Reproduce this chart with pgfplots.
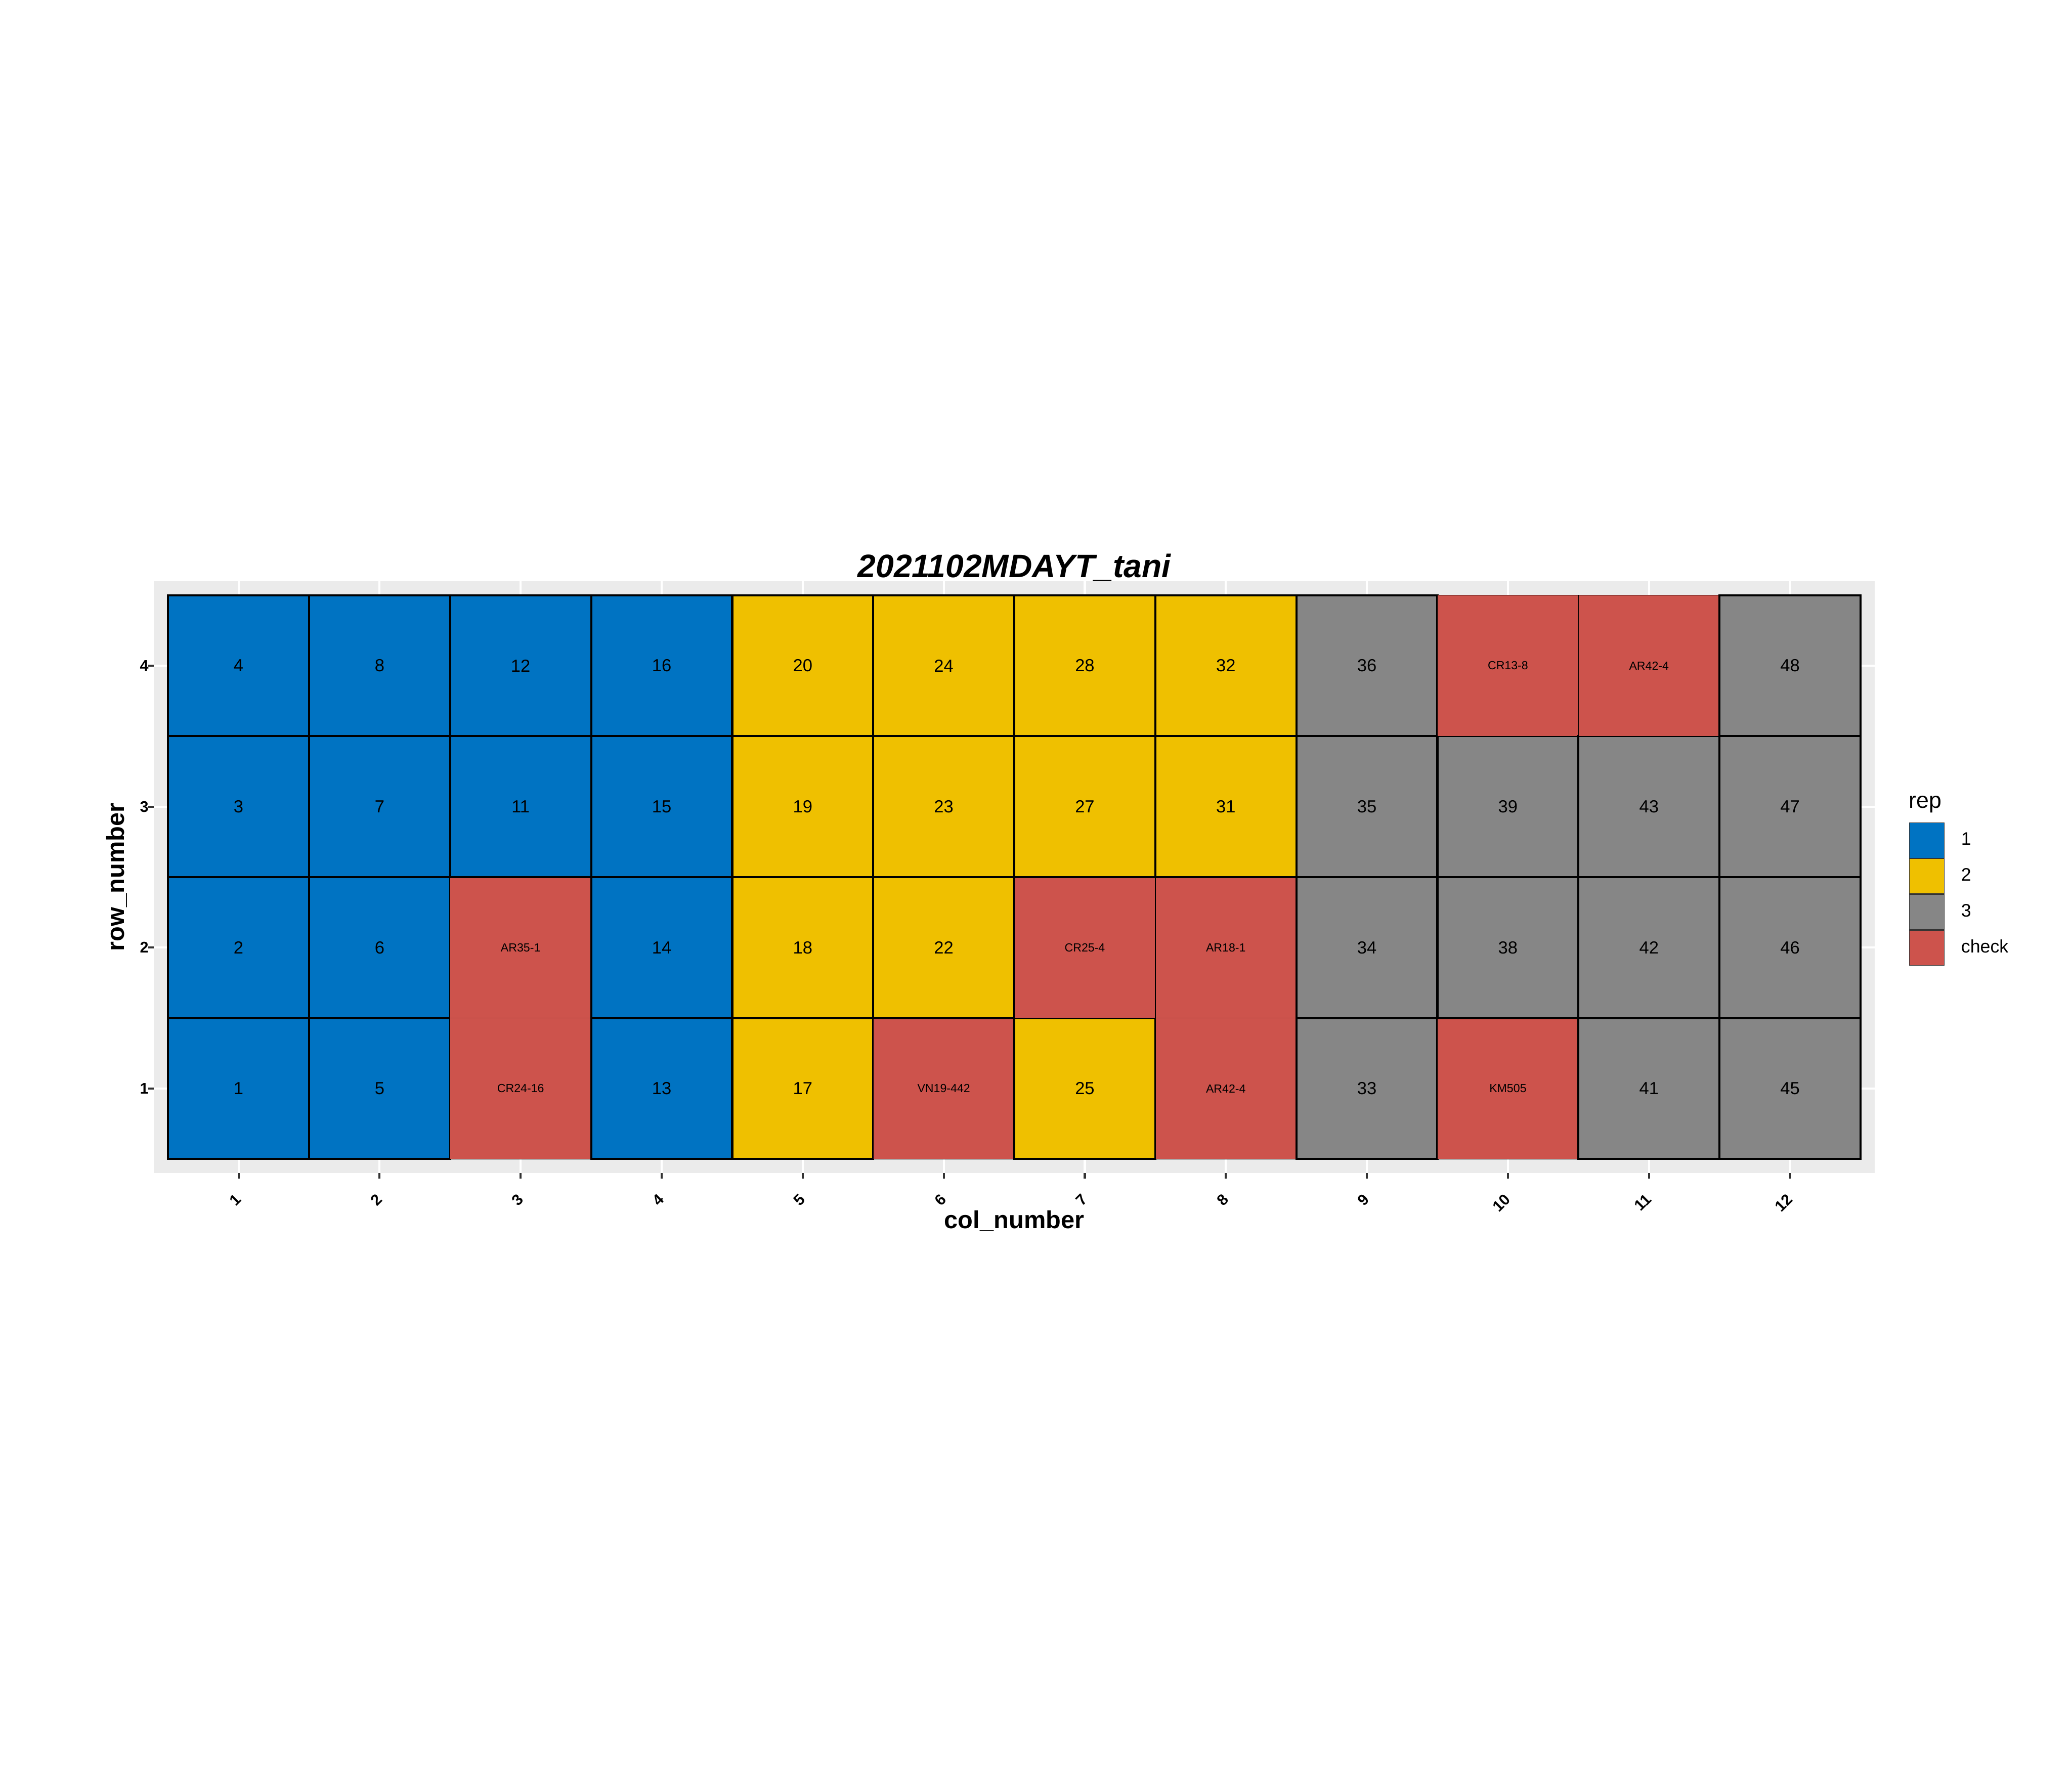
\documentclass[border=0pt]{standalone}
\usepackage{fontspec}
\setmainfont{Liberation Sans}
\usepackage{pgfplots}
\usepackage{pgfplotstable}
\pgfplotsset{compat=1.18}
\definecolor{repA}{HTML}{0073C2}
\definecolor{repB}{HTML}{EFC000}
\definecolor{repC}{HTML}{868686}
\definecolor{repD}{HTML}{CD534C}
\definecolor{panelbg}{HTML}{EBEBEB}
\definecolor{tickc}{HTML}{333333}
\pgfplotstableread{
x y cls lab
1 1 a 1
1 2 a 2
1 3 a 3
1 4 a 4
2 1 a 5
2 2 a 6
2 3 a 7
2 4 a 8
3 1 d CR24-16
3 2 d AR35-1
3 3 a 11
3 4 a 12
4 1 a 13
4 2 a 14
4 3 a 15
4 4 a 16
5 1 b 17
5 2 b 18
5 3 b 19
5 4 b 20
6 1 d VN19-442
6 2 b 22
6 3 b 23
6 4 b 24
7 1 b 25
7 2 d CR25-4
7 3 b 27
7 4 b 28
8 1 d AR42-4
8 2 d AR18-1
8 3 b 31
8 4 b 32
9 1 c 33
9 2 c 34
9 3 c 35
9 4 c 36
10 1 d KM505
10 2 c 38
10 3 c 39
10 4 d CR13-8
11 1 c 41
11 2 c 42
11 3 c 43
11 4 d AR42-4
12 1 c 45
12 2 c 46
12 3 c 47
12 4 c 48
}\tiles
\pgfplotstableread{
x y lab
1 1 1
1 2 2
1 3 3
1 4 4
2 1 5
2 2 6
2 3 7
2 4 8
3 3 11
3 4 12
4 1 13
4 2 14
4 3 15
4 4 16
5 1 17
5 2 18
5 3 19
5 4 20
6 2 22
6 3 23
6 4 24
7 1 25
7 3 27
7 4 28
8 3 31
8 4 32
9 1 33
9 2 34
9 3 35
9 4 36
10 2 38
10 3 39
11 1 41
11 2 42
11 3 43
12 1 45
12 2 46
12 3 47
12 4 48
}\nums
\pgfplotstableread{
x y lab
3 1 CR24-16
3 2 AR35-1
6 1 VN19-442
7 2 CR25-4
8 1 AR42-4
8 2 AR18-1
10 1 KM505
10 4 CR13-8
11 4 AR42-4
}\checks
\begin{document}
\begin{tikzpicture}
\path (0,0) rectangle (1008pt,864pt);
\begin{axis}[
  at={(74.88pt,293.28pt)}, anchor=south west,
  scale only axis, width=837.1pt, height=288pt,
  xmin=0.4, xmax=12.6, ymin=0.4, ymax=4.6,
  clip=false,
  axis background/.style={fill=panelbg},
  axis line style={draw=none},
  xtick={1,...,12}, ytick={1,...,4},
  minor tick num=0,
  grid=major,
  major grid style={draw=white, line width=1pt},
  tick pos=left, tick align=outside,
  major tick length=2.75pt,
  tick style={draw=tickc, line width=1pt},
  /pgf/number format/assume math mode=true,
  xticklabel style={font=\bfseries\fontsize{7.5}{9}\selectfont, inner sep=0pt, yshift=-8.6pt, rotate=45, anchor=east},
  yticklabel style={font=\bfseries\fontsize{7.5}{9}\selectfont, inner sep=0pt, xshift=0.3pt, anchor=east},
  title={2021102MDAYT\_tani},
  every axis title/.style={at={(axis description cs:0.5,1)}, anchor=base, yshift=1.7pt, font=\bfseries\itshape\fontsize{15.8}{19}\selectfont},
  xlabel={col\_number},
  every axis x label/.style={at={(axis description cs:0.5,0)}, anchor=base, yshift=-26.9pt, font=\bfseries\fontsize{12}{14}\selectfont},
  ylabel={row\_number},
  every axis y label/.style={at={(axis description cs:0,0.5)}, xshift=-14.5pt, rotate=90, anchor=base, font=\bfseries\fontsize{12}{14}\selectfont},
  legend image code/.code={\draw[#1] (0pt,-8.55pt) rectangle (17.1pt,8.55pt);},
  legend cell align=left,
  legend style={at={(1.0197,0.5928)}, anchor=north west, draw=none, fill=none, inner sep=0pt, column sep=6pt, row sep=0pt, font=\fontsize{8.8}{10}\selectfont},
]
\addplot[forget plot, scatter, only marks, mark=square*, mark size=34.3pt,
  scatter src=explicit symbolic,
  scatter/classes={
    a={mark=square*, fill=repA, draw=black, line width=1pt},
    b={mark=square*, fill=repB, draw=black, line width=1pt},
    c={mark=square*, fill=repC, draw=black, line width=1pt},
    d={mark=square*, fill=repD, draw=black, line width=0.3pt}}]
  table[x=x, y=y, meta=cls]{\tiles};
\addlegendimage{fill=repA, draw=tickc, line width=0.3pt}
\addlegendentry{1}
\addlegendimage{fill=repB, draw=tickc, line width=0.3pt}
\addlegendentry{2}
\addlegendimage{fill=repC, draw=tickc, line width=0.3pt}
\addlegendentry{3}
\addlegendimage{fill=repD, draw=tickc, line width=0.3pt}
\addlegendentry{check}
\addplot[forget plot, only marks, mark=none,
  point meta=explicit symbolic,
  nodes near coords,
  every node near coord/.append style={anchor=center, inner sep=0pt, text=black, font=\fontsize{8.5}{10}\selectfont}]
  table[x=x, y=y, meta=lab]{\nums};
\addplot[forget plot, only marks, mark=none,
  point meta=explicit symbolic,
  nodes near coords,
  every node near coord/.append style={anchor=center, inner sep=0pt, text=black, font=\fontsize{5.7}{7}\selectfont}]
  table[x=x, y=y, meta=lab]{\checks};
\node[anchor=base west, inner sep=0pt, font=\fontsize{11}{13}\selectfont] at (axis description cs:1.0197,0.6167) {rep};
\end{axis}
\end{tikzpicture}
\end{document}
